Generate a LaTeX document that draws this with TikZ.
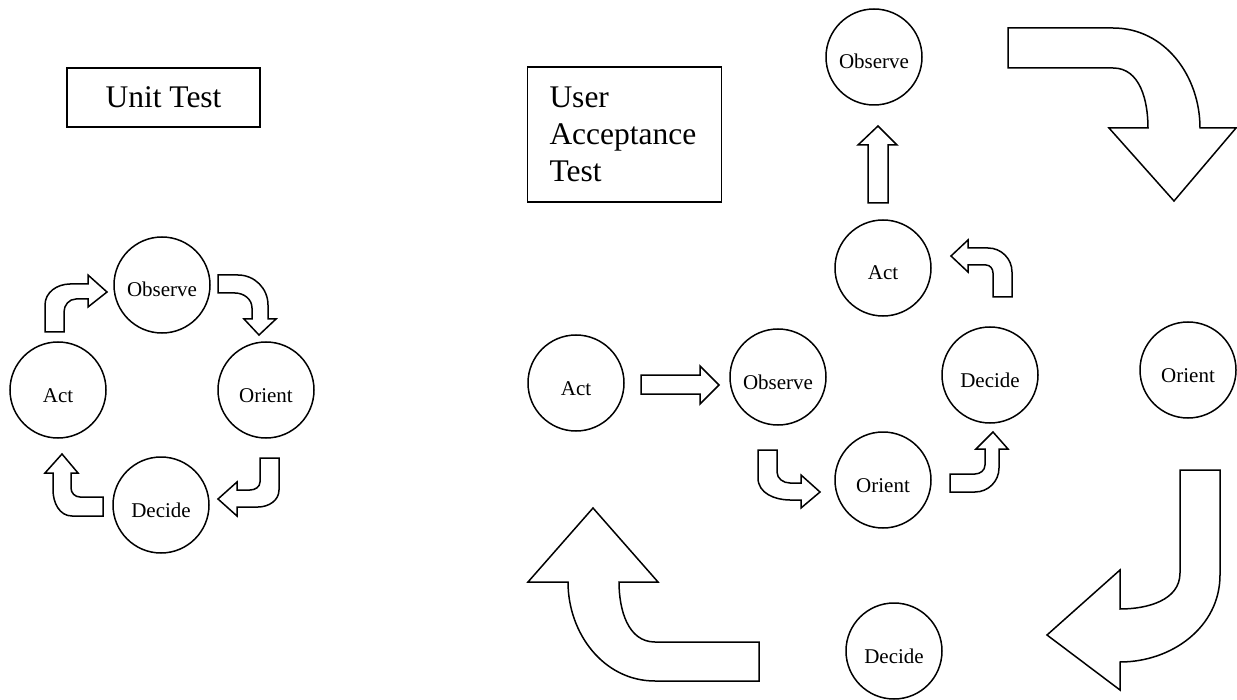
\documentclass[tikz,border=0pt]{standalone}
\usepackage{fontspec}
\setmainfont{Liberation Serif}
\usepackage{tikz}

\begin{document}
\begin{tikzpicture}[x=0.5pt,y=-0.5pt,
        loopnode/.style={circle,draw,line width=0.75pt,minimum size=48pt,inner sep=0pt,text height=12pt,text depth=0pt,font=\fontsize{10.5}{12}\selectfont},
        titlebox/.style={rectangle,draw,line width=0.75pt,font=\fontsize{15.75}{18.5}\selectfont},
        blockarrow/.style={draw,line width=0.75pt,fill=white,line join=miter}]
        \useasboundingbox (0,0) rectangle (1237,700);
        % Titles
        \node[titlebox,minimum width=96.5pt,minimum height=29.5pt] (unit) at (163.5,97.5) {Unit Test};
        \node[titlebox,minimum height=67.5pt,inner xsep=11pt,text width=75pt,align=left] (uat) at (624.5,134.5) {User\\Acceptance\\Test};
        % Unit test loop
        \node[loopnode] (obsL) at (162,285) {Observe};
        \node[loopnode] (actL) at (58,390) {Act};
        \node[loopnode] (oriL) at (266,390) {Orient};
        \node[loopnode] (decL) at (161,505) {Decide};
        \draw[blockarrow] (45,332) -- (45,305) to[out=90,in=180] (70,284) -- (88,284) -- (88,275) -- (107,292) -- (88,307) -- (88,299) -- (76,299) to[out=180,in=90] (64,312) -- (64,332) -- cycle;
        \draw[blockarrow] (218,275) -- (238,275) to[out=0,in=90] (268,305) -- (268,319) -- (276,319) -- (259,335) -- (244,319) -- (252,319) -- (252,308) to[out=90,in=0] (235,293) -- (218,293) -- cycle;
        \draw[blockarrow] (279,458) -- (279,490) to[out=270,in=0] (258,507) -- (237,507) -- (237,516) -- (218,499) -- (237,482) -- (237,490) -- (250,490) to[out=0,in=270] (260,482) -- (260,458) -- cycle;
        \draw[blockarrow] (103,497) -- (80,497) to[out=180,in=270] (71,488) -- (71,473) -- (78,473) -- (62,454) -- (45,473) -- (53,473) -- (53,490) to[out=270,in=180] (72,516) -- (103,516) -- cycle;
        % Acceptance test loop
        \node[loopnode] (actR) at (576,383) {Act};
        \node[loopnode] (obsR) at (778,377) {Observe};
        \node[loopnode] (oriR) at (883,480) {Orient};
        \node[loopnode] (decR) at (990,375) {Decide};
        \node[loopnode] (actU) at (883,268) {Act};
        \node[loopnode] (obsU) at (874,57) {Observe};
        \node[loopnode] (oriF) at (1188,370) {Orient};
        \node[loopnode] (decF) at (894,651) {Decide};
        \draw[blockarrow] (641,375) -- (700,375) -- (700,366) -- (719,385) -- (700,404) -- (700,394) -- (641,394) -- cycle;
        \draw[blockarrow] (758,450) -- (758,478) to[out=270,in=180] (790,500) -- (801,500) -- (801,508) -- (820,492) -- (801,475) -- (801,483) -- (790,483) to[out=180,in=270] (777,472) -- (777,450) -- cycle;
        \draw[blockarrow] (950,492) -- (975,492) to[out=0,in=270] (999,468) -- (999,449) -- (1008,449) -- (993,432) -- (976,449) -- (985,449) -- (985,465) to[out=270,in=0] (975,474) -- (950,474) -- cycle;
        \draw[blockarrow] (1012,297) -- (1012,272) to[out=90,in=0] (988,248) -- (968,248) -- (968,240) -- (951,256) -- (968,272) -- (968,265) -- (986,265) to[out=0,in=90] (993,273) -- (993,297) -- cycle;
        \draw[blockarrow] (868,203) -- (868,145) -- (858,145) -- (878,126) -- (897,145) -- (888,145) -- (888,203) -- cycle;
        % Big outer arrows
        \draw[blockarrow] (1008,28) -- (1113,28) to[out=0,in=90] (1200,128) -- (1236,128) -- (1174,201) -- (1109,128) -- (1148,128) to[out=90,in=0] (1113,68) -- (1008,68) -- cycle;
        \draw[blockarrow] (1180,470) -- (1220,470) -- (1220,575) to[out=270,in=0] (1120,662) -- (1120,690) -- (1047,635) -- (1120,570) -- (1120,609) to[out=0,in=270] (1180,573) -- cycle;
        \draw[blockarrow] (759,642) -- (655,642) to[out=180,in=270] (619,582) -- (658,582) -- (593,508) -- (528,582) -- (568,582) to[out=270,in=180] (655,681) -- (759,681) -- cycle;
    \end{tikzpicture}
\end{document}
